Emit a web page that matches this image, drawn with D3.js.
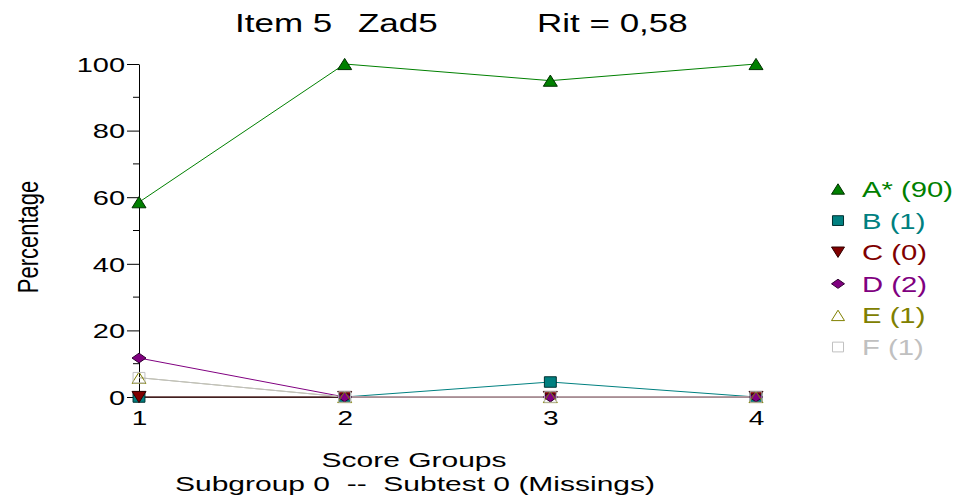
<!DOCTYPE html>
<html><head><meta charset="utf-8">
<script src="https://cdn.jsdelivr.net/npm/d3@7"></script>
<style>body{margin:0;background:#fff}text{font-family:"Liberation Sans",Arial,sans-serif}</style>
</head><body><svg id="c" width="968" height="496"></svg>
<script>
const groups = [1, 2, 3, 4];
const seriesNames = ["A* (90)", "B (1)", "C (0)", "D (2)", "E (1)", "F (1)"];
const valuesA = [58.5, 100, 95, 100];
const valuesB = [0, 0, 4.5, 0];
const valuesC = [0, 0, 0, 0];
const valuesD = [11.7, 0, 0, 0];
const valuesE = [5.8, 0, 0, 0];
const valuesF = [5.8, 0, 0, 0];
const yTicks = [0, 20, 40, 60, 80, 100];
const yMinor = [10, 30, 50, 70, 90];

const seriesStyle = [
  {vals: valuesA, color: "#008000", fill: "#008000", stroke: "#003000", sym: "triUp"},
  {vals: valuesB, color: "#008080", fill: "#008080", stroke: "#003030", sym: "square"},
  {vals: valuesC, color: "#800000", fill: "#800000", stroke: "#300000", sym: "triDown"},
  {vals: valuesD, color: "#800080", fill: "#800080", stroke: "#300030", sym: "diamond"},
  {vals: valuesE, color: "#808000", fill: "none", stroke: "#808000", sym: "triUp", line: "#b8b890"},
  {vals: valuesF, color: "#c0c0c0", fill: "none", stroke: "#c0c0c0", sym: "square"}
];

const svg = d3.select("#c");
const SX = 1.4;
const x = d3.scalePoint().domain(groups).range([139, 756]);
const y = d3.scaleLinear().domain([0, 100]).range([397, 64]);

function sText(g, txt, tx, ty, size, anchor, color, sx) {
  return g.append("text").text(txt)
    .attr("transform", `translate(${tx},${ty}) scale(${sx||SX},1)`)
    .attr("font-size", size).attr("text-anchor", anchor || "start")
    .attr("fill", color || "#000");
}

function symPath(sym, s) {
  if (sym === "triUp") return `M${-s},${s*0.8}L${s},${s*0.8}L0,${-s*0.8}Z`;
  if (sym === "triDown") return `M${-s},${-s*0.8}L${s},${-s*0.8}L0,${s*0.8}Z`;
  if (sym === "square") return `M${-s*0.85},${-s*0.75}H${s*0.85}V${s*0.75}H${-s*0.85}Z`;
  if (sym === "diamond") return `M${-s},0L0,${-s*0.7}L${s},0L0,${s*0.7}Z`;
}

// title
sText(svg, "Item 5", 235, 32, 25);
sText(svg, "Zad5", 358, 32, 25);
sText(svg, "Rit = 0,58", 537, 32, 25);

// y axis
const yAxis = svg.append("g").attr("transform", `translate(${x(1)},0)`)
  .call(d3.axisLeft(y).tickValues(yTicks).tickSize(12).tickSizeOuter(0).tickFormat(d3.format("d")));
yAxis.select(".domain").attr("stroke", "#000");
yAxis.selectAll(".tick line").attr("stroke", "#000");
yAxis.selectAll(".tick text").attr("x", null).attr("dy", "0.36em")
  .attr("font-size", 20).attr("fill", "#000")
  .attr("font-family", '"Liberation Sans",Arial,sans-serif')
  .attr("transform", `translate(-14,0) scale(1.45,1)`);
yAxis.selectAll(".minor").data(yMinor).enter().append("line")
  .attr("x1", -6).attr("x2", 0).attr("y1", d => y(d)).attr("y2", d => y(d)).attr("stroke", "#000");

// x axis
const xAxis = svg.append("g").attr("transform", `translate(0,${y(0)})`)
  .call(d3.axisBottom(x).tickSize(0).tickSizeOuter(0));
xAxis.select(".domain").attr("stroke", "#000");
xAxis.selectAll(".tick text").attr("y", 14)
  .attr("font-size", 20).attr("fill", "#000")
  .attr("font-family", '"Liberation Sans",Arial,sans-serif')
  .attr("transform", `scale(${SX},1)`);

// lines and markers
const line = d3.line().x((d, i) => x(groups[i])).y(d => y(d));
seriesStyle.forEach(s => {
  svg.append("path").attr("d", line(s.vals)).attr("fill", "none")
    .attr("stroke", s.line || s.color).attr("stroke-width", 1);
});
seriesStyle.forEach(s => {
  svg.append("g").selectAll("path").data(s.vals).enter().append("path")
    .attr("d", symPath(s.sym, 7))
    .attr("transform", (d, i) => `translate(${x(groups[i])},${y(d)})`)
    .attr("fill", s.fill).attr("stroke", s.stroke).attr("stroke-width", 1);
});

// legend
const leg = svg.append("g");
seriesStyle.forEach((s, i) => {
  const cy = 189 + i * 31.6;
  leg.append("path").attr("d", symPath(s.sym, 6.5))
    .attr("transform", `translate(838,${cy})`)
    .attr("fill", s.fill).attr("stroke", s.stroke);
  sText(leg, seriesNames[i], 862, cy + 8, 22, "start", s.color, 1.33);
});

// axis titles
svg.append("text").text("Percentage")
  .attr("transform", "translate(38,237) rotate(-90) scale(1,1.35)")
  .attr("font-size", 22).attr("text-anchor", "middle").attr("fill", "#000");
sText(svg, "Score Groups", 414, 467, 20, "middle", "#000", 1.5);
sText(svg, "Subgroup 0  --  Subtest 0 (Missings)", 415, 491, 20, "middle", "#000", 1.5)
  .style("white-space", "pre");
</script></body></html>
